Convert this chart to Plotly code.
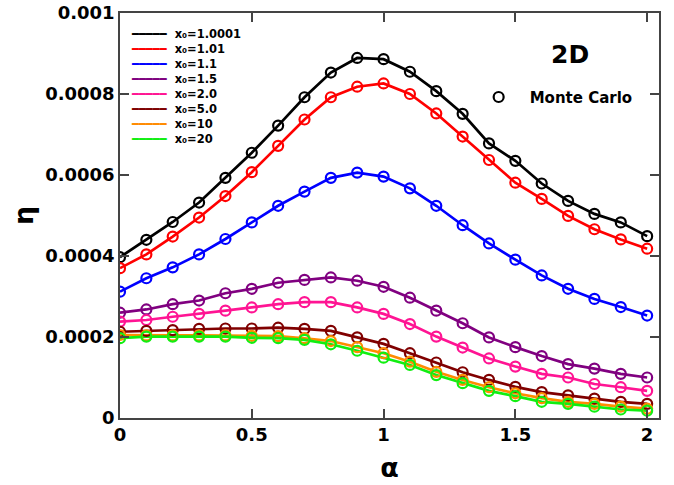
import plotly.graph_objects as go

# Anomalous exponent alpha sampled from 0 to 2
alpha = [0.0, 0.1, 0.2, 0.3, 0.4, 0.5, 0.6, 0.7, 0.8, 0.9, 1.0,
         1.1, 1.2, 1.3, 1.4, 1.5, 1.6, 1.7, 1.8, 1.9, 2.0]

# Efficiency eta for each starting position x0
eta_10001 = [0.000397, 0.000440, 0.000484, 0.000532, 0.000593, 0.000655, 0.000722,
             0.000792, 0.000853, 0.000889, 0.000886, 0.000855, 0.000807, 0.000751,
             0.000678, 0.000635, 0.000579, 0.000536, 0.000504, 0.000483, 0.000449]
eta_101 = [0.000370, 0.000404, 0.000448, 0.000495, 0.000548, 0.000607, 0.000672,
           0.000737, 0.000792, 0.000818, 0.000826, 0.000800, 0.000752, 0.000695,
           0.000637, 0.000581, 0.000541, 0.000499, 0.000466, 0.000441, 0.000418]
eta_11 = [0.000312, 0.000345, 0.000372, 0.000404, 0.000442, 0.000483, 0.000524,
          0.000559, 0.000593, 0.000606, 0.000596, 0.000567, 0.000524, 0.000476,
          0.000431, 0.000391, 0.000352, 0.000319, 0.000294, 0.000274, 0.000253]
eta_15 = [0.000260, 0.000268, 0.000281, 0.000290, 0.000308, 0.000319, 0.000334,
          0.000341, 0.000347, 0.000339, 0.000324, 0.000297, 0.000265, 0.000234,
          0.000199, 0.000175, 0.000153, 0.000133, 0.000122, 0.000109, 0.000100]
eta_20 = [0.000238, 0.000242, 0.000250, 0.000257, 0.000265, 0.000273, 0.000281,
          0.000286, 0.000286, 0.000273, 0.000257, 0.000232, 0.000201, 0.000174,
          0.000147, 0.000127, 0.000109, 0.000100, 0.000084, 0.000076, 0.000067]
eta_50 = [0.000213, 0.000215, 0.000217, 0.000220, 0.000221, 0.000221, 0.000223,
          0.000220, 0.000215, 0.000199, 0.000183, 0.000160, 0.000137, 0.000113,
          0.000094, 0.000077, 0.000064, 0.000056, 0.000048, 0.000040, 0.000035]
eta_10 = [0.000205, 0.000204, 0.000204, 0.000204, 0.000204, 0.000203, 0.000202,
          0.000197, 0.000190, 0.000175, 0.000160, 0.000139, 0.000114, 0.000094,
          0.000076, 0.000061, 0.000049, 0.000040, 0.000035, 0.000028, 0.000023]
eta_200 = [0.000197, 0.000201, 0.000201, 0.000201, 0.000201, 0.000198, 0.000197,
           0.000193, 0.000182, 0.000166, 0.000149, 0.000131, 0.000106, 0.000086,
           0.000067, 0.000054, 0.000040, 0.000035, 0.000028, 0.000021, 0.000018]

x0_labels = ["1.0001", "1.01", "1.1", "1.5", "2.0", "5.0", "10", "20"]
series = [eta_10001, eta_101, eta_11, eta_15, eta_20, eta_50, eta_10, eta_200]
colors = ["#000000", "#ff0000", "#0000ff", "#800080",
          "#ff1493", "#800000", "#ff8c00", "#11ee11"]

x_ticks = [0, 0.5, 1, 1.5, 2]
x_ticktext = ["0", "0.5", "1", "1.5", "2"]
y_ticks = [0, 0.0002, 0.0004, 0.0006, 0.0008, 0.001]
y_ticktext = ["0", "0.0002", "0.0004", "0.0006", "0.0008", "0.001"]

FONT = "DejaVu Sans"

fig = go.Figure()

# Theory curves
for lab, ys, c in zip(x0_labels, series, colors):
    fig.add_trace(go.Scatter(
        x=alpha, y=ys, mode="lines", name=f"x₀={lab}",
        line=dict(color=c, width=2.7), showlegend=False, hoverinfo="skip"))

# Monte Carlo points (open circles)
for i, (lab, ys, c) in enumerate(zip(x0_labels, series, colors)):
    fig.add_trace(go.Scatter(
        x=alpha, y=ys, mode="markers", name="Monte Carlo",
        marker=dict(symbol="circle-open", size=10, color=c, line=dict(width=2.2, color=c)),
        showlegend=(i == 0), legend="legend2"))

# Line-key legend for x0 values
legend_lines = [
    f"<span style='color:{c}'>━━━━━</span>\u00a0\u00a0x₀={lab}"
    for lab, c in zip(x0_labels, colors)
]
fig.add_annotation(
    xref="paper", yref="paper", x=0.016, y=0.970, xanchor="left", yanchor="top",
    text="<br>".join(legend_lines), showarrow=False, align="left",
    font=dict(family=FONT, size=11.5, color="#000000", weight="bold"))

fig.add_annotation(
    xref="paper", yref="paper", x=0.835, y=0.898, xanchor="center", yanchor="middle",
    text="2D", showarrow=False,
    font=dict(family=FONT, size=25, color="#000000", weight="bold"))

axis_common = dict(
    showgrid=False, zeroline=False, showline=True, linecolor="#444444", linewidth=1.5,
    mirror="ticks", ticks="inside", ticklen=9, tickwidth=1.5, tickcolor="#444444",
    automargin=False,
    tickfont=dict(family=FONT, size=18, color="#000000", weight="bold"),
)

fig.update_layout(
    width=674, height=485,
    margin=dict(l=120, r=15, t=13, b=67),
    plot_bgcolor="white", paper_bgcolor="white",
    xaxis=dict(range=[0, 2.045], tickvals=x_ticks, ticktext=x_ticktext,
               title=dict(text="α", standoff=14,
                          font=dict(family=FONT, size=27, color="#000000", weight="bold")),
               **axis_common),
    yaxis=dict(range=[0, 0.001], tickvals=y_ticks, ticktext=y_ticktext,
               title=dict(text="η", standoff=4,
                          font=dict(family=FONT, size=27, color="#000000", weight="bold")),
               **axis_common),
    legend2=dict(x=0.645, y=0.792, xanchor="left", yanchor="middle",
                 bgcolor="rgba(0,0,0,0)", itemwidth=52,
                 font=dict(family=FONT, size=15, color="#000000", weight="bold")),
    showlegend=True,
)

fig.write_html("out.html")
